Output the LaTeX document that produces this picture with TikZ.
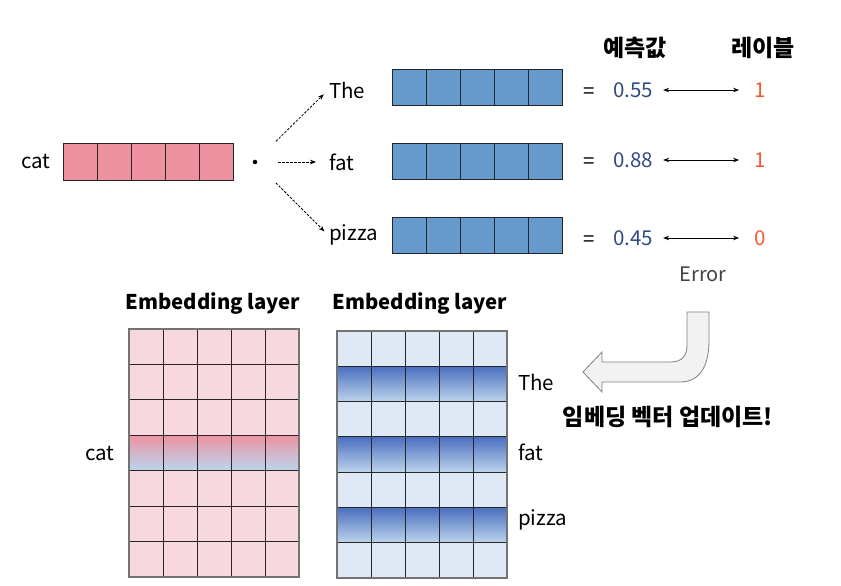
\documentclass[tikz,border=0pt]{standalone}
\usepackage{fontspec}
\setmainfont{Noto Sans CJK KR}
\usetikzlibrary{arrows.meta}
\definecolor{pinkc}{HTML}{EE919F}
\definecolor{bluec}{HTML}{6699CC}
\definecolor{lpink}{HTML}{F7D8DF}
\definecolor{lblue}{HTML}{DFE9F5}
\definecolor{gblue}{HTML}{BDD4EC}
\definecolor{dblue}{HTML}{4A6FBF}
\definecolor{valc}{HTML}{2E4A86}
\definecolor{labc}{HTML}{F25A32}
\definecolor{arrgray}{HTML}{F2F2F2}
\begin{document}
\begin{tikzpicture}[x=1pt,y=-1pt,
  txt/.style={font=\fontsize{20.5}{22}\selectfont, inner sep=1pt},
  btxt/.style={font=\fontsize{20.3}{22}\selectfont\bfseries, inner sep=1pt},
  ktxt/.style={font=\fontsize{23}{25}\selectfont\bfseries, inner sep=1pt},
  cell/.style={draw=black!85, line width=0.8pt, minimum width=34pt, minimum height=36pt, inner sep=0pt, outer sep=0pt},
  gcell/.style={draw=black!85, line width=0.8pt, minimum width=34pt, minimum height=35.4pt, inner sep=0pt, outer sep=0pt},
  darr/.style={dash pattern=on 2.5pt off 1.5pt, line width=0.8pt, -{Stealth[length=6pt,width=4.5pt]}},
  barr/.style={line width=0.8pt, {Stealth[length=6pt,width=4.5pt]}-{Stealth[length=6pt,width=4.5pt]}}
]
\useasboundingbox (0,0) rectangle (841,586);

% cat vector
\node[txt] (cat) at (36,161) {cat};
\foreach \i in {1,...,5}
  \node[cell, fill=pinkc, minimum height=37pt] (c\i) at ({46+34*\i},161.5) {};
\node[circle, fill=black, inner sep=1.6pt] (dot) at (255,162) {};

% words
\node[txt, anchor=west] (wThe) at (328,90) {The};
\node[txt, anchor=west] (wfat) at (328,162) {fat};
\node[txt, anchor=west] (wpizza) at (328,235) {pizza};
\draw[darr, shorten <=27pt, shorten >=6pt] (dot) -- (wThe.west);
\draw[darr, shorten <=21pt, shorten >=12pt] (dot) -- (wfat.west);
\draw[darr, shorten <=27pt, shorten >=5pt] (dot) -- (wpizza.west);

% blue vectors
\foreach \r/\y in {1/87, 2/161, 3/235}
  \foreach \i in {1,...,5}
    \node[cell, fill=bluec] (b\r\i) at ({375+34*\i},\y) {};

% headers
\node[ktxt] (hpred) at (635,48) {예측값};
\node[ktxt] (hlab) at (763,48) {레이블};

% values
\foreach \r/\y/\v/\l in {1/90/0.55/1, 2/160/0.88/1, 3/238/0.45/0} {
  \node[txt] (eq\r) at (589,\y+3) {=};
  \node[txt, text=valc] (v\r) at (633,\y) {\v};
  \node[txt, text=labc] (l\r) at (760,\y) {\l};
  \draw[barr, shorten <=9pt, shorten >=14pt] (v\r.east) -- (l\r.west);
}
\node[txt, text=black!75, font=\fontsize{20}{22}\selectfont] (err) at (703,274) {Error};

% embedding headers
\node[btxt] (h1) at (213,303) {Embedding layer};
\node[btxt] (h2) at (420,303) {Embedding layer};

% left grid
\foreach \j in {1,...,7}
  \foreach \i in {1,...,5} {
    \ifnum\j=4
      \node[gcell, top color=pinkc, bottom color=gblue, middle color={pinkc!45!gblue}] (L\j\i) at ({112+34*\i},{329+35.4*(\j-0.5)}) {};
    \else
      \node[gcell, fill=lpink] (L\j\i) at ({112+34*\i},{329+35.4*(\j-0.5)}) {};
    \fi
  }
\draw[black!55, line width=1.6pt] (L11.north west) rectangle (L75.south east);

% right grid
\foreach \j in {1,...,7}
  \foreach \i in {1,...,5} {
    \ifodd\j
      \node[gcell, fill=lblue] (R\j\i) at ({320+34*\i},{331+35.3*(\j-0.5)}) {};
    \else
      \node[gcell, top color=dblue, bottom color=gblue] (R\j\i) at ({320+34*\i},{331+35.3*(\j-0.5)}) {};
    \fi
  }
\draw[black!55, line width=1.6pt] (R11.north west) rectangle (R75.south east);

% labels
\node[txt] (lcat) at (100,453) {cat};
\node[txt, anchor=west] (lThe) at (517,382) {The};
\node[txt, anchor=west] (lfat) at (517,452) {fat};
\node[txt, anchor=west] (lpizza) at (517,520) {pizza};

% update arrow
\draw[fill=arrgray, draw=black!50, line width=0.8pt]
  (583,372) -- (602,352) -- (602,362) -- (670,362)
  .. controls (682,362) and (687,356) .. (687,345)
  -- (687,312) -- (709,312) -- (709,340)
  .. controls (709,366) and (700,382) .. (680,382)
  -- (602,382) -- (602,392) -- cycle;
\node[ktxt] (upd) at (668,417) {임베딩 벡터 업데이트!};
\end{tikzpicture}
\end{document}
